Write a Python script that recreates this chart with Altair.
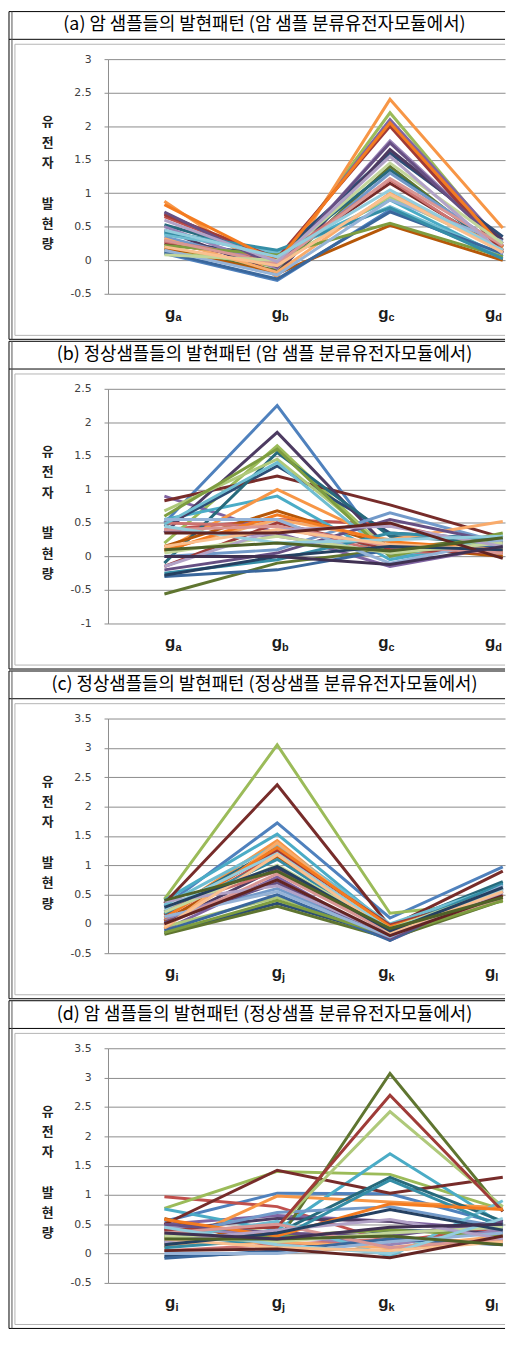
import altair as alt
import pandas as pd

# ---------------- data ----------------
panel_titles = [
    "(a) 암 샘플들의 발현패턴 (암 샘플 분류유전자모듈에서)",
    "(b) 정상샘플들의 발현패턴 (암 샘플 분류유전자모듈에서)",
    "(c) 정상샘플들의 발현패턴 (정상샘플 분류유전자모듈에서)",
    "(d) 암 샘플들의 발현패턴 (정상샘플 분류유전자모듈에서)",
]
y_title = ["유", "전", "자", "", "발", "현", "량"]
cat_main = ["g", "g", "g", "g"]
cat_sub_ab = ["a", "b", "c", "d"]
cat_sub_cd = ["i", "j", "k", "l"]

ticks_a = [-0.5, 0, 0.5, 1, 1.5, 2, 2.5, 3]
ticks_b = [-1, -0.5, 0, 0.5, 1, 1.5, 2, 2.5]
ticks_cd = [-0.5, 0, 0.5, 1, 1.5, 2, 2.5, 3, 3.5]

# panel (a): cancer samples, cancer-module genes
a_ga = [0.10, 0.65, 0.20, 0.70, 0.40, 0.88, 0.30, 0.25, 0.15, 0.45, 0.53, 0.18, 0.35, 0.28, 0.12,
        0.50, 0.38, 0.32, 0.12, 0.68, 0.22, 0.72, 0.42, 0.83, 0.15, 0.30, 0.08, 0.60, 0.45, 0.20]
a_gb = [-0.30, 0.00, -0.10, -0.05, 0.10, -0.25, 0.05, 0.00, -0.15, -0.20, 0.05, -0.20, -0.08, 0.02, -0.05,
        -0.12, 0.12, -0.18, -0.28, 0.03, 0.08, -0.10, 0.15, -0.02, -0.22, -0.05, 0.00, -0.02, 0.05, -0.08]
a_gc = [0.75, 2.05, 2.20, 2.10, 0.90, 2.40, 1.60, 1.15, 1.40, 1.65, 1.35, 0.52, 1.30, 1.20, 0.95,
        1.78, 0.80, 1.00, 0.72, 2.00, 0.55, 1.75, 0.78, 2.05, 0.90, 1.22, 1.45, 1.55, 1.05, 0.98]
a_gd = [0.05, 0.15, 0.20, 0.25, 0.05, 0.48, 0.35, 0.15, 0.10, 0.30, 0.12, 0.00, 0.20, 0.10, 0.15,
        0.22, 0.08, 0.18, 0.10, 0.12, 0.05, 0.20, 0.02, 0.20, 0.28, 0.22, 0.25, 0.10, 0.15, 0.12]

# panel (b): normal samples, cancer-module genes
b_ga = [0.50, 0.40, 0.20, 0.90, 0.55, 0.10, 0.45, 0.83, -0.56, 0.35, -0.10, 0.15, 0.00, 0.50, 0.68, 0.38, 0.48,
        0.10, -0.30, -0.15, 0.60, -0.20, -0.25, 0.08, 0.55, 0.40, 0.05, -0.15, 0.45, 0.15, -0.28, 0.35, 0.10, 0.00]
b_gb = [2.25, 0.55, 1.65, 0.35, 0.90, 1.00, 1.35, 1.20, -0.10, 1.85, 1.55, 0.68, 0.10, 0.45, 1.45, 0.30, 1.40,
        0.55, -0.20, 0.50, 1.60, 0.05, -0.05, 0.62, 0.55, 0.45, 0.30, 0.40, 0.20, 0.40, 0.00, 0.35, 0.20, 0.00]
b_gc = [0.00, 0.48, 0.05, -0.15, -0.05, 0.20, 0.35, 0.77, 0.10, 0.10, 0.30, 0.15, 0.65, 0.05, 0.10, 0.05, 0.00,
        0.25, 0.10, 0.10, 0.00, 0.55, 0.35, 0.22, -0.10, 0.15, 0.05, 0.45, 0.25, 0.18, 0.15, 0.50, 0.08, -0.12]
b_gd = [0.20, 0.10, 0.30, 0.15, 0.25, 0.05, 0.25, 0.28, 0.30, 0.15, 0.20, 0.00, 0.20, 0.10, 0.25, 0.20, 0.30,
        0.52, 0.15, 0.05, 0.35, 0.20, 0.25, 0.10, 0.25, 0.05, 0.20, 0.15, 0.30, 0.10, 0.10, -0.03, 0.28, 0.15]

# panel (c): normal samples, normal-module genes
c_gi = [0.30, 0.05, 0.42, -0.10, 0.40, 0.15, -0.15, 0.35, -0.18, 0.00, 0.20, 0.05, 0.10, 0.25, -0.05, 0.08, 0.32,
        -0.08, -0.12, 0.15, -0.15, 0.02, 0.18, 0.10, 0.12, -0.02, 0.20, 0.38, 0.25, -0.05, 0.28, 0.00, 0.40]
c_gj = [1.72, 1.20, 3.05, 0.80, 1.53, 1.42, 0.35, 2.37, 0.30, 0.95, 1.30, 1.15, 0.60, 0.90, 0.45, 0.75, 1.35,
        1.38, 0.50, 1.25, 0.40, 0.70, 1.10, 1.30, 0.55, 0.85, 1.00, 0.65, 1.20, 1.18, 0.98, 0.75, 0.90]
c_gk = [0.10, -0.10, 0.18, -0.28, -0.05, -0.15, -0.20, -0.05, -0.25, -0.15, -0.05, -0.08, -0.20, -0.10, -0.18,
        -0.22, 0.00, -0.12, -0.28, -0.02, -0.20, -0.25, -0.12, -0.05, -0.22, -0.15, -0.08, -0.18, -0.10, -0.15,
        -0.12, -0.20, -0.08]
c_gl = [0.97, 0.50, 0.38, 0.55, 0.70, 0.45, 0.60, 0.90, 0.40, 0.55, 0.72, 0.45, 0.60, 0.50, 0.42, 0.55, 0.65,
        0.48, 0.62, 0.52, 0.40, 0.58, 0.68, 0.50, 0.65, 0.45, 0.60, 0.52, 0.58, 0.55, 0.62, 0.48, 0.45]

# panel (d): cancer samples, normal-module genes
d_gi = [0.55, 0.97, 0.77, 0.50, 0.76, 0.10, -0.05, 0.50, 0.30, 0.40, 0.20, 0.60, 0.30, 0.05, 0.35, 0.45, 0.25,
        0.15, -0.08, 0.40, 0.28, 0.50, 0.10, 0.58, 0.00, 0.35, 0.30, 0.20, 0.45, 0.25, 0.15, 0.05, 0.25, 0.35]
d_gj = [1.03, 0.80, 1.40, 0.65, 0.40, 0.98, 0.02, 1.42, 0.20, 0.60, 0.35, 0.10, 0.70, 0.15, 0.45, 0.30, 0.55,
        0.20, 0.05, 0.45, 0.30, 0.35, 0.25, 0.30, 0.00, 0.50, 0.20, 0.40, 0.15, 0.10, 0.35, 0.08, 0.25, 0.25]
d_gk = [1.02, 0.20, 1.35, 0.55, 1.70, 0.88, 0.40, 1.03, 3.07, 0.55, 1.30, 0.05, 0.80, 0.25, 2.42, 0.15, -0.05,
        0.10, 0.25, 2.70, 0.40, 0.30, 1.25, 0.85, 0.20, 0.10, 0.35, 0.58, 0.00, 0.05, 0.75, -0.07, 0.30, 0.45]
d_gl = [0.50, 0.45, 0.75, 0.40, 0.50, 0.78, 0.35, 1.30, 0.72, 0.30, 0.55, 0.25, 0.45, 0.20, 0.80, 0.40, 0.90,
        0.30, 0.15, 0.72, 0.30, 0.55, 0.45, 0.75, 0.35, 0.25, 0.45, 0.25, 0.60, 0.20, 0.40, 0.30, 0.15, 0.50]

excel_colors = [
    "#4F81BD", "#C0504D", "#9BBB59", "#8064A2", "#4BACC6", "#F79646",
    "#2C4D75", "#772C2A", "#5F7530", "#4D3B62", "#276A7C", "#B65708",
    "#729ACA", "#CD7371", "#AFC97A", "#9983B5", "#6FBDD1", "#F9AB6B",
    "#3A679C", "#9F3B38", "#7E9D40", "#664F83", "#358EA6", "#F47B20",
    "#95B3D7", "#D99694", "#C3D69B", "#B2A2C7", "#93CDDD", "#FAC090",
    "#254061", "#632523", "#4F6228", "#403152", "#215968", "#974806",
]

# ---------------- layout ----------------
W, H = 401, 237
XDOM = [-0.5, 3.02]
GRID = "#8c8c8c"


def panel(title, subs, columns, ticks):
    n = len(columns[0])
    names = [f"s{s:02d}" for s in range(n)]
    rows = []
    for s in range(n):
        for i, col in enumerate(columns):
            rows.append({"series": names[s], "xi": i, "v": col[s]})
    df = pd.DataFrame(rows)

    xscale = alt.Scale(domain=XDOM, nice=False, zero=False)
    yaxis = alt.Axis(
        values=ticks, grid=True, gridColor=GRID, gridWidth=1,
        domainColor=GRID, domainWidth=1, tickColor=GRID, tickSize=4,
        labelFont="DejaVu Sans", labelFontSize=11, labelColor="#404040",
        labelPadding=13, labelExpr="datum.value + ''", title=None,
    )
    lines = alt.Chart(df).mark_line(strokeWidth=3).encode(
        x=alt.X("xi:Q", scale=xscale, axis=None),
        y=alt.Y("v:Q", scale=alt.Scale(domain=[ticks[0], ticks[-1]], nice=False, zero=False), axis=yaxis),
        color=alt.Color("series:N", scale=alt.Scale(domain=names, range=excel_colors[:n]), legend=None),
    )

    one = alt.Data(values=[{"t": title}])
    black_h = alt.Chart(one).mark_rule(color="#000000", strokeWidth=1)
    top_line = black_h.encode(x=alt.value(-100), x2=alt.value(W), y=alt.value(-48))
    tb_line = black_h.encode(x=alt.value(-100), x2=alt.value(W), y=alt.value(-20))
    bot_line = black_h.encode(x=alt.value(-100), x2=alt.value(W), y=alt.value(H + 46))
    left_line = black_h.encode(x=alt.value(-100), y=alt.value(-48), y2=alt.value(H + 46))
    left_line2 = alt.Chart(one).mark_rule(color="#555555", strokeWidth=1).encode(
        x=alt.value(-97), y=alt.value(-48), y2=alt.value(H + 46))
    box = alt.Chart(one).mark_rule(color="#b4b4b4", strokeWidth=1)
    box_top = box.encode(x=alt.value(-94), x2=alt.value(W), y=alt.value(-15))
    box_bot = box.encode(x=alt.value(-94), x2=alt.value(W), y=alt.value(H + 42))
    box_left = box.encode(x=alt.value(-94), y=alt.value(-15), y2=alt.value(H + 42))

    title_txt = alt.Chart(one).mark_text(
        font="Noto Sans CJK KR", fontSize=18, color="#000000", align="center", baseline="middle"
    ).encode(x=alt.value(158), y=alt.value(-34), text="t:N")

    yt_df = pd.DataFrame({"k": list(range(len(y_title))), "ch": y_title})
    ytitle = alt.Chart(yt_df).transform_filter("datum.ch != ''").transform_calculate(
        py="64 + datum.k * 20.5"
    ).mark_text(
        font="Noto Sans CJK KR", fontSize=13, fontWeight="bold", color="#222222",
        align="center", baseline="middle",
    ).encode(x=alt.value(-61), y=alt.Y("py:Q", scale=None, axis=None), text="ch:N")

    lab_df = pd.DataFrame({"i": list(range(4)), "g": cat_main, "sub": subs})
    lab_base = alt.Chart(lab_df).transform_calculate(lx="0.08 + 0.945 * datum.i")
    g_txt = lab_base.mark_text(
        font="Liberation Sans", fontWeight="bold", fontSize=17, color="#1a1a1a",
        align="right", baseline="middle", dx=2,
    ).encode(x=alt.X("lx:Q", scale=xscale, axis=None), y=alt.value(H + 20), text="g:N")
    sub_txt = lab_base.mark_text(
        font="Liberation Sans", fontWeight="bold", fontSize=11, color="#1a1a1a",
        align="left", baseline="middle", dx=2, dy=5,
    ).encode(x=alt.X("lx:Q", scale=xscale, axis=None), y=alt.value(H + 20), text="sub:N")

    return alt.layer(
        box_top, box_bot, box_left, top_line, tb_line, bot_line, left_line, left_line2,
        title_txt, ytitle, lines, g_txt, sub_txt,
    ).properties(width=W, height=H)


p_a = panel(panel_titles[0], cat_sub_ab, [a_ga, a_gb, a_gc, a_gd], ticks_a)
p_b = panel(panel_titles[1], cat_sub_ab, [b_ga, b_gb, b_gc, b_gd], ticks_b)
p_c = panel(panel_titles[2], cat_sub_cd, [c_gi, c_gj, c_gk, c_gl], ticks_cd)
p_d = panel(panel_titles[3], cat_sub_cd, [d_gi, d_gj, d_gk, d_gl], ticks_cd)

chart = alt.vconcat(p_a, p_b, p_c, p_d, spacing=0).properties(
    padding={"left": 0, "top": -4, "right": 0, "bottom": 0}, background="white"
).configure_view(stroke=None).resolve_scale(x="independent", y="independent", color="independent")

chart.save("out.html", embed_options={"renderer": "svg", "actions": False})
